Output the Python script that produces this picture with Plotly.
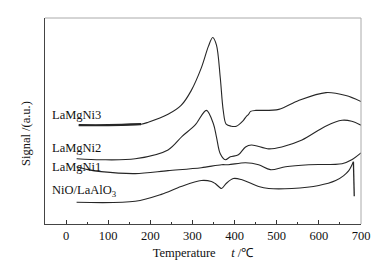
import plotly.graph_objects as go

# Temperature (°C) and signal (a.u.)
t_ni3 = [30, 100, 178, 195, 242, 273, 297, 321, 338, 348, 357, 366, 373, 380, 392, 404, 421, 428, 433, 438, 450, 457, 505, 552, 617, 664, 700]
s_ni3 = [100, 100, 101, 103, 111, 120, 135, 158, 180, 188.7, 181, 148, 115, 101, 99, 99, 105, 109, 111, 114, 115, 115, 116, 125, 133, 130, 124]

t_ni2 = [25, 83, 164, 242, 276, 306, 333, 350, 357, 366, 378, 390, 409, 426, 440, 481, 512, 560, 616, 655, 678, 700]
s_ni2 = [66, 65, 66, 75, 89, 100, 115, 101, 88, 71, 65, 68, 70, 78, 80, 76, 78, 85, 99, 105, 104, 100]

t_ni1 = [25, 52, 83, 164, 242, 321, 369, 385, 426, 457, 485, 521, 576, 655, 678, 700]
s_ni1 = [58, 55, 53, 51, 54, 57, 60, 60, 62, 60, 55, 58, 60, 61, 65, 72]

t_nio = [25, 164, 226, 273, 321, 345, 354, 369, 380, 397, 416, 457, 481, 536, 600, 640, 659, 671, 682]
s_nio = [22, 23, 30, 38, 44, 43, 41, 36, 41, 46, 45, 38, 36, 36, 39, 44, 49, 54, 63]
t_nio_drop = [682, 684]
s_nio_drop = [63, 28]

labels = ["LaMgNi3", "LaMgNi2", "LaMgNi1", "NiO/LaAlO<sub>3</sub>"]
label_y = [110, 77, 58, 33]

x_ticks = [0, 100, 200, 300, 400, 500, 600, 700]

line_col = "#262626"
fig = go.Figure()
for t, s in [(t_ni3, s_ni3), (t_ni2, s_ni2), (t_ni1, s_ni1), (t_nio, s_nio)]:
    fig.add_trace(go.Scatter(x=t, y=s, mode="lines",
                             line=dict(color=line_col, width=1.1, shape="spline", smoothing=0.9),
                             showlegend=False))
fig.add_trace(go.Scatter(x=t_nio_drop, y=s_nio_drop, mode="lines",
                         line=dict(color=line_col, width=1.3), showlegend=False))
# thicker start of LaMgNi3
fig.add_trace(go.Scatter(x=t_ni3[:3], y=s_ni3[:3], mode="lines",
                         line=dict(color=line_col, width=2.2, shape="spline"), showlegend=False))

for lab, ly in zip(labels, label_y):
    fig.add_annotation(x=-38, y=ly, xref="x", yref="y", text=lab, showarrow=False,
                       xanchor="left", yanchor="middle",
                       font=dict(family="Liberation Serif", size=12.5, color="#111"))

fig.add_annotation(x=-0.058, y=0.44, xref="paper", yref="paper", text="Signal /(a.u.)",
                   showarrow=False, textangle=-90, xanchor="center", yanchor="middle",
                   font=dict(family="Liberation Serif", size=12.5, color="#111"))

# top / right frame (lighter)
fig.add_shape(type="line", xref="paper", yref="paper", x0=0, x1=1, y0=1, y1=1, line=dict(color="#aaaaaa", width=1))
fig.add_shape(type="line", xref="paper", yref="paper", x0=1, x1=1, y0=0, y1=1, line=dict(color="#aaaaaa", width=1))

fig.update_layout(
    width=383, height=260,
    margin=dict(l=37, r=30, t=10, b=42),
    plot_bgcolor="white", paper_bgcolor="white",
    font=dict(family="Liberation Serif", size=12.5, color="#111"),
)
fig.update_xaxes(range=[-50, 700], tickvals=x_ticks, ticks="inside", ticklen=4, tickcolor="#333",
                 showline=True, linecolor="#444", linewidth=1, showgrid=False, zeroline=False,
                 minor=dict(ticks="inside", ticklen=2.5, dtick=50, tick0=0, tickcolor="#333", showgrid=False),
                 title=dict(text="Temperature\u00a0\u00a0\u00a0\u00a0\u00a0<i>t</i> /\u2103", standoff=6,
                            font=dict(family="Liberation Serif", size=12.5)),
                 tickfont=dict(family="Liberation Serif", size=12.5))
fig.update_yaxes(range=[0, 208.5], showticklabels=False, ticks="", showline=True, linecolor="#444",
                 linewidth=1, showgrid=False, zeroline=False)

fig.write_html("out.html")
